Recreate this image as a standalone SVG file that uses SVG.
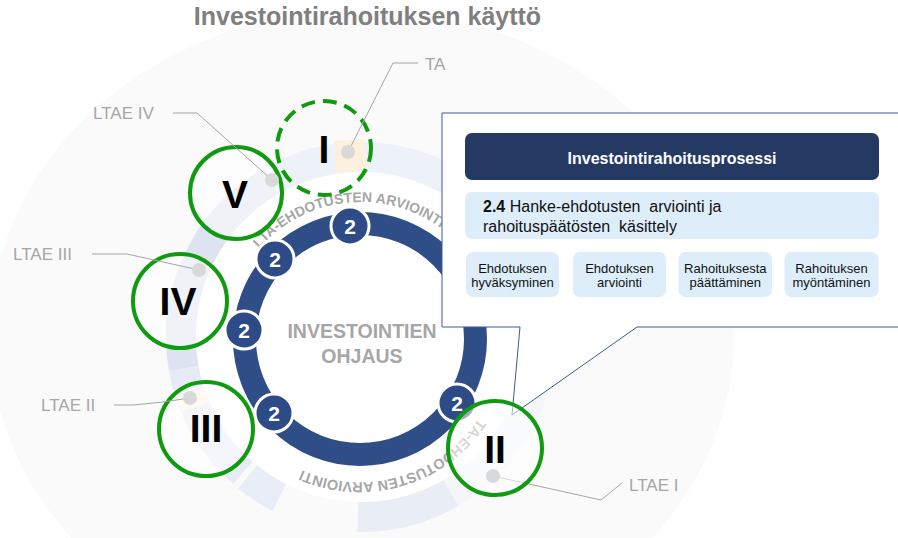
<svg xmlns="http://www.w3.org/2000/svg" width="898" height="538" viewBox="0 0 898 538">
<defs>
<style>
.t{font-family:"Liberation Sans",Arial,sans-serif}
.lbl{font-family:"Liberation Sans",Arial,sans-serif;font-size:17px;fill:#a6a6a6}
.lead{fill:none;stroke:#a6a6a6;stroke-width:1}
.dot{fill:#d9d9d9}
.phase{fill:#fff;fill-opacity:.55;stroke:#109a10;stroke-width:4}
.num{font-family:"Liberation Sans",Arial,sans-serif;font-weight:bold;font-size:39px;fill:#000;text-anchor:middle}
.badge circle{fill:#2d4b86;stroke:#fff;stroke-width:3}
.badge text{font-family:"Liberation Sans",Arial,sans-serif;font-weight:bold;font-size:21px;fill:#fff;text-anchor:middle}
.band{fill:none;stroke-width:30}
.arc{font-family:"Liberation Sans",Arial,sans-serif;font-weight:bold;fill:#a6a6a6}
.sub rect{fill:#ddeefa}
.sub text{font-family:"Liberation Sans",Arial,sans-serif;font-size:13px;fill:#111;text-anchor:middle}
</style>
<path id="topArc" d="M259.1,248.4 A135,135 0 1 1 462.9,425.6 A135,135 0 1 1 259.1,248.4"/>
<path id="botArc" d="M478.4,418.6 A143,143 0 1 1 243.6,255.4 A143,143 0 1 1 478.4,418.6"/>
</defs>

<g id="background">
<rect width="898" height="538" fill="#fff"/>
<ellipse cx="362" cy="335" rx="372" ry="325" fill="#fafafb"/>
<path class="band" stroke="#e9edf6" d="M451,492.9 A180,180 0 0 1 357.9,517"/>
<path class="band" stroke="#e9edf7" d="M279.3,497.4 A180,180 0 0 1 247.7,476.9"/>
<path class="band" stroke="#e6ebf5" d="M242.9,472.8 A180,180 0 0 1 183.7,368.3"/>
<path class="band" stroke="#dde3f0" d="M183.7,368.3 A180,180 0 0 1 271,181.1"/>
<path class="band" stroke="#edf1f8" d="M271,181.1 A180,180 0 0 1 530.1,275.4"/>
<path class="band" stroke="#f4f6fa" d="M530.1,275.4 A180,180 0 0 1 451,492.9"/>
<circle cx="361" cy="337" r="165" fill="#fff"/>
</g>

<g id="title">
<text class="t" x="367.5" y="25" font-size="25" font-weight="bold" fill="#7f7f7f" text-anchor="middle">Investointirahoituksen käyttö</text>
</g>

<g id="ring">
<circle cx="360" cy="339" r="115.5" fill="none" stroke="#2f4d87" stroke-width="23"/>
<text class="t" x="362" y="338" font-size="19.5" font-weight="bold" fill="#a6a6a6" text-anchor="middle">INVESTOINTIEN</text>
<text class="t" x="362" y="363" font-size="19.5" font-weight="bold" fill="#a6a6a6" text-anchor="middle">OHJAUS</text>
</g>

<g id="arc-texts">
<text class="arc" font-size="14"><textPath href="#topArc">LTA-EHDOTUSTEN ARVIOINTI</textPath></text>
<text class="arc" font-size="14.5"><textPath href="#botArc">TA-EHDOTUSTEN ARVIOINTI</textPath></text>
</g>

<g id="badges">
<g class="badge" id="badge1"><circle cx="350" cy="226" r="19"/><text x="350" y="233.5">2</text></g>
<g class="badge" id="badge2"><circle cx="275" cy="259" r="19"/><text x="275" y="266.5">2</text></g>
<g class="badge" id="badge3"><circle cx="244" cy="330" r="19"/><text x="244" y="337.5">2</text></g>
<g class="badge" id="badge4"><circle cx="274" cy="413" r="19"/><text x="274" y="420.5">2</text></g>
<g class="badge" id="badge5"><circle cx="457" cy="403" r="19"/><text x="457" y="410.5">2</text></g>
</g>

<g id="markers">
<rect x="335" y="140" width="30" height="31" fill="#fdf0dc" transform="rotate(-4 350 155)"/>
<rect x="178.5" y="392.5" width="28" height="15" fill="#fdf3dc" transform="rotate(-20 192.5 400)"/>
</g>

<g id="phase-I">
<circle cx="324" cy="148" r="47" fill="none" stroke="#109a10" stroke-width="4" stroke-dasharray="14 8"/>
<text class="num" x="324" y="163">I</text>
</g>
<g id="phase-V">
<circle class="phase" cx="236" cy="193" r="46"/>
<text class="num" x="235" y="208">V</text>
</g>
<g id="phase-IV">
<circle class="phase" cx="180" cy="301" r="47"/>
<text class="num" x="178" y="315">IV</text>
</g>
<g id="phase-III">
<circle class="phase" cx="206" cy="429" r="47"/>
<text class="num" x="206" y="442">III</text>
</g>

<g id="connectors">
<polyline class="lead" points="418,63 393,63 348,152"/>
<polyline class="lead" points="173,113 197,113 272,180"/>
<polyline class="lead" points="92,254 127,254 199,270"/>
<path class="lead" d="M114,405 H133 Q160,403 190,398"/>
<polyline class="lead" points="493,476 601,500 622,483"/>
</g>

<g id="dots">
<circle class="dot" cx="348" cy="152" r="7"/>
<circle class="dot" cx="272" cy="180" r="7"/>
<circle class="dot" cx="199" cy="270" r="7"/>
<circle class="dot" cx="190" cy="398" r="7"/>
</g>

<g id="labels">
<text class="lbl" x="425" y="70">TA</text>
<text class="lbl" x="93" y="119">LTAE IV</text>
<text class="lbl" x="13" y="260">LTAE III</text>
<text class="lbl" x="41" y="411">LTAE II</text>
<text class="lbl" x="629" y="491">LTAE I</text>
</g>

<g id="callout">
<path d="M442,113 H905 V327 H637 L512,415 L520,327 H442 Z" fill="#fff" stroke="#3c5a99" stroke-width="1"/>
<g id="header">
<rect x="465" y="133" width="414" height="47" rx="7" fill="#253a63"/>
<text class="t" x="672" y="163.5" font-size="16" font-weight="bold" fill="#fff" text-anchor="middle">Investointirahoitusprosessi</text>
</g>
<g id="step">
<rect x="465" y="192" width="414" height="47" rx="7" fill="#ddeefa"/>
<text class="t" x="483" y="212" font-size="16" fill="#111" xml:space="preserve"><tspan font-weight="bold">2.4</tspan> Hanke-ehdotusten  arviointi ja</text>
<text class="t" x="483" y="232" font-size="16" fill="#111" xml:space="preserve">rahoituspäätösten  käsittely</text>
</g>
<g class="sub" id="sub1"><rect x="466" y="252" width="93" height="45" rx="7"/><text x="512.5" y="272.5">Ehdotuksen</text><text x="512.5" y="287">hyväksyminen</text></g>
<g class="sub" id="sub2"><rect x="573" y="252" width="93" height="45" rx="7"/><text x="619.5" y="272.5">Ehdotuksen</text><text x="619.5" y="287">arviointi</text></g>
<g class="sub" id="sub3"><rect x="678.5" y="252" width="93.5" height="45" rx="7"/><text x="725.3" y="272.5">Rahoituksesta</text><text x="725.3" y="287">päättäminen</text></g>
<g class="sub" id="sub4"><rect x="784.5" y="252" width="94" height="45" rx="7"/><text x="831.5" y="272.5">Rahoituksen</text><text x="831.5" y="287">myöntäminen</text></g>
</g>

<g id="phase-II">
<circle class="phase" cx="495" cy="448" r="47"/>
<circle class="dot" cx="493" cy="476" r="7"/>
<text class="num" x="495" y="463">II</text>
</g>
</svg>
